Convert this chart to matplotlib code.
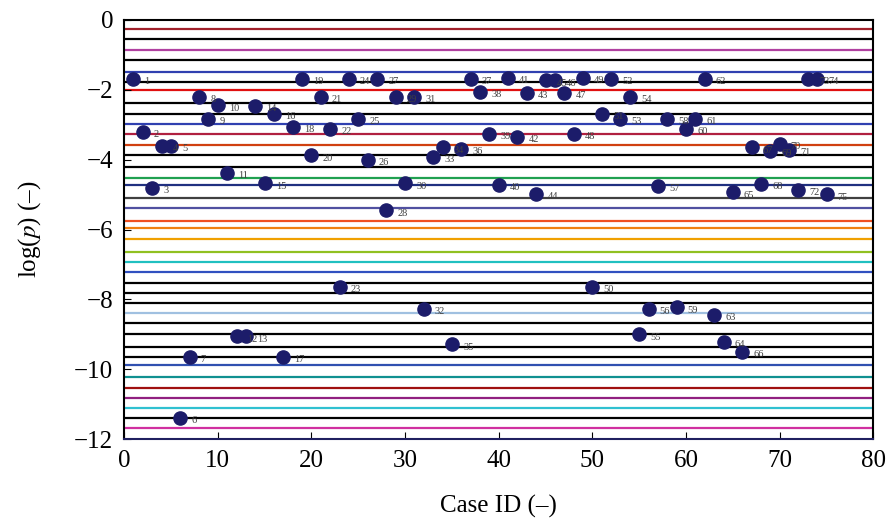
import matplotlib
matplotlib.use("Agg")
import matplotlib.pyplot as plt
from matplotlib.ticker import MultipleLocator


# =========================
# DATA
# =========================
case_ids = list(range(1, 76))
log_p = [
    -1.68, -3.21, -4.80, -3.60, -3.60, -11.40, -9.64, -2.21, -2.83, -2.45,
    -4.37, -9.06, -9.06, -2.47, -4.68, -2.69, -9.64, -3.07, -1.68, -3.88,
    -2.21, -3.12, -7.65, -1.68, -2.83, -4.00, -1.68, -5.45, -2.21, -4.68,
    -2.21, -8.27, -3.93, -3.65, -9.29, -3.69, -1.68, -2.06, -3.26, -4.72,
    -1.65, -3.34, -2.09, -4.97, -1.73, -1.73, -2.09, -3.26, -1.65, -7.65,
    -2.68, -1.68, -2.83, -2.21, -9.00, -8.27, -4.75, -2.83, -8.23, -3.12,
    -2.83, -1.68, -8.44, -9.21, -4.94, -9.50, -3.65, -4.70, -3.74, -3.55,
    -3.72, -4.87, -1.68, -1.68, -4.99,
]

# horizontal reference levels and their colours
ref_levels = [
    -0.27, -0.56, -0.85, -1.15, -1.50, -1.78, -2.01, -2.38, -2.68, -2.97,
    -3.26, -3.57, -3.86, -4.22, -4.53, -4.72, -5.10, -5.39, -5.76, -5.97,
    -6.28, -6.64, -6.94, -7.23, -7.52, -7.81, -8.09, -8.38, -8.69, -9.00,
    -9.36, -9.65, -9.88, -10.22, -10.53, -10.82, -11.12, -11.40, -11.69,
]
ref_colors = [
    "#a0202a", "black", "#b040a0", "black", "#3040b0", "black", "#e01010",
    "black", "black", "#3040b0", "#b02040", "#d04010", "black", "black",
    "#20a050", "#203080", "#404040", "#5050a0", "#f05020", "#f08010",
    "#f0a000", "#90c020", "#20c0c0", "#3050c0", "black", "black", "black",
    "#a0c0e0", "black", "black", "black", "black", "#3050b0", "#109090",
    "#a01010", "#902080", "#30c0d0", "black", "#d030a0",
]


# =========================
# PLOT
# =========================
def main() -> None:
    plt.rcParams["font.family"] = ["Liberation Serif", "DejaVu Serif"]
    plt.rcParams["mathtext.fontset"] = "stix"

    fig, ax = plt.subplots(figsize=(8.93, 5.24), dpi=100)
    fig.subplots_adjust(left=0.139, right=0.978, top=0.962, bottom=0.162)

    for lev, col in zip(ref_levels, ref_colors):
        ax.axhline(lev, color=col, lw=1.6, zorder=1)

    ax.scatter(case_ids, log_p, s=90, color="#1c1c6a", zorder=3)
    for cid, val in zip(case_ids, log_p):
        ax.annotate(str(cid), (cid, val), xytext=(8, -2),
                    textcoords="offset points", fontsize=7.5,
                    color="#404040", va="center", zorder=4)

    ax.set_xlim(0, 80)
    ax.set_ylim(-12, 0)
    ax.xaxis.set_major_locator(MultipleLocator(10))
    ax.yaxis.set_major_locator(MultipleLocator(2))
    ax.tick_params(direction="in", labelsize=18, length=5)
    ax.tick_params(axis="x", pad=8)
    ax.tick_params(axis="y", pad=8)
    for sp in ax.spines.values():
        sp.set_linewidth(1.5)
    ax.spines["bottom"].set_color("#202060")

    ax.set_xlabel("Case ID (\u2013)", fontsize=18, labelpad=16)
    ax.set_ylabel("log($p$) (\u2013)", fontsize=18, labelpad=22)

    fig.savefig("out.png", dpi=100)
    plt.close(fig)


if __name__ == "__main__":
    main()
